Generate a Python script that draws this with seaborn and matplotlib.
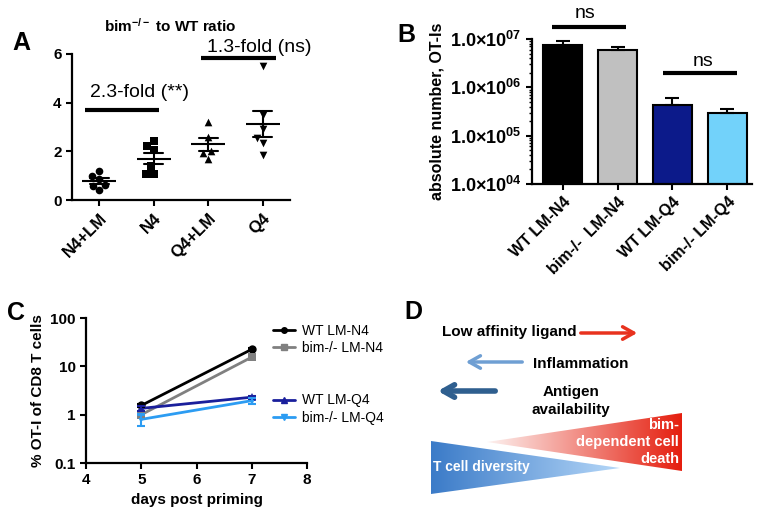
import matplotlib
matplotlib.use('Agg')
import matplotlib.pyplot as plt
import numpy as np
import pandas as pd
import seaborn as sns
from matplotlib import ticker
from matplotlib.lines import Line2D
from matplotlib.patches import Polygon
from matplotlib.colors import LinearSegmentedColormap

sns.set_style('ticks')
plt.rcParams['font.family'] = ['Liberation Sans', 'DejaVu Sans']
plt.rcParams['mathtext.fontset'] = 'custom'
plt.rcParams['mathtext.rm'] = 'Liberation Sans'
plt.rcParams['mathtext.bf'] = 'Liberation Sans:bold'
plt.rcParams['mathtext.default'] = 'bf'
plt.rcParams['text.color'] = 'black'
plt.rcParams['axes.labelcolor'] = 'black'
plt.rcParams['axes.linewidth'] = 1.6
plt.rcParams['axes.edgecolor'] = 'black'
plt.rcParams['xtick.major.width'] = 1.5
plt.rcParams['ytick.major.width'] = 1.5
plt.rcParams['xtick.major.size'] = 4
plt.rcParams['ytick.major.size'] = 4
plt.rcParams['ytick.minor.size'] = 2
plt.rcParams['ytick.minor.width'] = 1.0
plt.rcParams['xtick.color'] = 'black'
plt.rcParams['ytick.color'] = 'black'

# panel A: bim-/- to WT ratio
a_groups = ['N4+LM', 'N4', 'Q4+LM', 'Q4']
a_n4lm = [1.2, 0.98, 0.85, 0.62, 0.58, 0.4]
a_n4 = [2.41, 2.21, 2.07, 1.38, 1.08, 1.08]
a_q4lm = [3.19, 2.6, 2.03, 1.92, 1.68]
a_q4 = [5.5, 3.5, 2.9, 2.55, 2.35, 1.85]
a_markers = ['o', 's', '^', 'v']

# panel B: absolute number of OT-Is
b_groups = ['WT LM-N4', 'bim-/-  LM-N4', 'WT LM-Q4', 'bim-/- LM-Q4']
b_means = [7.6e6, 6.0e6, 4.4e5, 3.0e5]
b_sem = [1.35e6, 0.95e6, 1.6e5, 0.5e5]
b_colors = ['#000000', '#c0c0c0', '#0c1a8a', '#72d2fa']

# panel C: % OT-I of CD8 T cells
c_days = [5, 7]
c_groups = ['WT LM-N4', 'bim-/- LM-N4', 'WT LM-Q4', 'bim-/- LM-Q4']
c_wt_n4 = [1.55, 22.5]
c_bim_n4 = [1.0, 15.5]
c_wt_q4 = [1.35, 2.3]
c_bim_q4 = [0.8, 1.95]
c_wt_n4_sem = [0.12, 1.0]
c_bim_n4_sem = [0.1, 1.0]
c_wt_q4_sem = [0.15, 0.15]
c_bim_q4_sem = [0.23, 0.3]
c_colors = ['#000000', '#808080', '#1a1f9c', '#2c9cf2']
c_markers = ['o', 's', '^', 'v']

fig = plt.figure(figsize=(7.62, 5.16), dpi=100)

# ---------------- A
a_vals = [a_n4lm, a_n4, a_q4lm, a_q4]
df_a = pd.DataFrame({'group': np.repeat(a_groups, [len(v) for v in a_vals]),
                     'ratio': np.concatenate(a_vals)})
ax_a = fig.add_axes([0.0945, 0.6124, 0.286, 0.283])
for g, m in zip(a_groups, a_markers):
    sns.swarmplot(data=df_a[df_a.group == g], x='group', y='ratio', order=a_groups,
                  marker=m, color='black', size=5.5, ax=ax_a)
sns.pointplot(data=df_a, x='group', y='ratio', order=a_groups, errorbar='se',
              capsize=0.35, color='black', marker='_', markersize=24,
              markeredgewidth=1.5, linestyle='none', err_kws={'linewidth': 1.5}, ax=ax_a)
ax_a.set_xlim(-0.5, 3.5)
ax_a.set_ylim(0, 6)
ax_a.set_yticks([0, 2, 4, 6])
ax_a.set_xlabel('')
ax_a.set_ylabel('')
ax_a.set_title('bim$^{-/-}$ to WT ratio', fontsize=11, fontweight='bold', pad=16, x=0.45)
plt.setp(ax_a.get_yticklabels(), fontsize=11, fontweight='bold')
plt.setp(ax_a.get_xticklabels(), fontsize=12, fontweight='bold', rotation=45,
         ha='right', rotation_mode='anchor')
ax_a.plot([-0.26, 1.1], [3.71, 3.71], color='black', lw=3, solid_capstyle='butt')
ax_a.text(-0.17, 4.4, '2.3-fold (**)', fontsize=14, va='center')
ax_a.plot([1.87, 3.25], [5.84, 5.84], color='black', lw=3, solid_capstyle='butt', clip_on=False)
ax_a.text(1.98, 6.25, '1.3-fold (ns)', fontsize=14, va='center', clip_on=False)
sns.despine(ax=ax_a)

# ---------------- B
ax_b = fig.add_axes([0.698, 0.6434, 0.289, 0.281])
sns.barplot(x=b_groups, y=b_means, hue=b_groups, palette=b_colors, saturation=1,
            edgecolor='black', linewidth=1.5, width=0.7, legend=False, ax=ax_b)
ax_b.set_yscale('log')
ax_b.errorbar(range(len(b_groups)), b_means, yerr=[np.zeros(len(b_sem)), b_sem], fmt='none',
              ecolor='black', elinewidth=1.5, capsize=5, capthick=1.5, zorder=1)
ax_b.set_ylim(1e4, 1e7)
ax_b.set_xlim(-0.56, 3.45)
ax_b.yaxis.set_major_locator(ticker.LogLocator(base=10, numticks=10))
ax_b.yaxis.set_minor_locator(ticker.LogLocator(base=10, subs=np.arange(2, 10), numticks=20))
ax_b.yaxis.set_minor_formatter(ticker.NullFormatter())
ax_b.yaxis.set_major_formatter(ticker.FuncFormatter(
    lambda v, p: '1.0×10$^{%02d}$' % round(np.log10(v))))
ax_b.tick_params(axis='y', which='minor', length=2.5, width=1)
plt.setp(ax_b.get_yticklabels(), fontsize=13, fontweight='bold')
plt.setp(ax_b.get_xticklabels(), fontsize=11.5, fontweight='bold', rotation=45,
         ha='right', rotation_mode='anchor')
ax_b.set_ylabel('absolute number, OT-Is', fontsize=11.5, fontweight='bold', labelpad=4)
ax_b.plot([-0.2, 1.15], [1.77e7, 1.77e7], color='black', lw=3, solid_capstyle='butt', clip_on=False)
ax_b.text(0.4, 3.4e7, 'ns', fontsize=14, ha='center', va='center')
ax_b.plot([1.82, 3.18], [1.96e6, 1.96e6], color='black', lw=3, solid_capstyle='butt')
ax_b.text(2.55, 3.5e6, 'ns', fontsize=14, ha='center', va='center')
sns.despine(ax=ax_b)

# ---------------- C
c_means = [c_wt_n4, c_bim_n4, c_wt_q4, c_bim_q4]
c_sems = [c_wt_n4_sem, c_bim_n4_sem, c_wt_q4_sem, c_bim_q4_sem]
df_c = pd.DataFrame({'day': c_days * len(c_groups),
                     'pct': np.concatenate(c_means),
                     'group': np.repeat(c_groups, len(c_days))})
ax_c = fig.add_axes([0.1129, 0.1027, 0.29, 0.281])
sns.lineplot(data=df_c, x='day', y='pct', hue='group', style='group',
             palette=dict(zip(c_groups, c_colors)), markers=dict(zip(c_groups, c_markers)),
             dashes=False, markersize=6, markeredgewidth=0, linewidth=2, legend=False, ax=ax_c)
for mean, sem, col in zip(c_means, c_sems, c_colors):
    ax_c.errorbar(c_days, mean, yerr=sem, fmt='none', ecolor=col, elinewidth=1.5,
                  capsize=3, capthick=1.5)
ax_c.set_yscale('log')
ax_c.set_ylim(0.1, 100)
ax_c.set_xlim(4, 8)
ax_c.set_xticks([4, 5, 6, 7, 8])
ax_c.set_yticks([0.1, 1, 10, 100])
ax_c.yaxis.set_major_formatter(ticker.FuncFormatter(lambda v, p: '%g' % v))
ax_c.yaxis.set_minor_locator(ticker.NullLocator())
plt.setp(ax_c.get_yticklabels(), fontsize=11, fontweight='bold')
plt.setp(ax_c.get_xticklabels(), fontsize=11, fontweight='bold')
ax_c.set_xlabel('days post priming', fontsize=11, fontweight='bold')
ax_c.set_ylabel('% OT-I of CD8 T cells', fontsize=11, fontweight='bold')
handles = []
for g, col, m in zip(c_groups, c_colors, c_markers):
    handles.append(Line2D([], [], color=col, marker=m, lw=2, ms=4, label=g))
blank = Line2D([], [], color='none', label=' ')
handles = handles[:2] + [blank, blank] + handles[2:]
ax_c.legend(handles=handles, loc='upper left', bbox_to_anchor=(0.82, 1.0), frameon=False,
            fontsize=10, handlelength=1.6, handletextpad=0.5, labelspacing=0.25,
            borderaxespad=0)
sns.despine(ax=ax_c)

# ---------------- D (schematic, pixel coordinates)
ax_d = fig.add_axes([0, 0, 1, 1], zorder=-1)
ax_d.axis('off')


def gradient_triangle(verts, c0, c1):
    cm = LinearSegmentedColormap.from_list('g', [c0, c1])
    xs = [v[0] for v in verts]
    ys = [v[1] for v in verts]
    im = ax_d.imshow(np.linspace(0, 1, 256)[None, :], cmap=cm, aspect='auto',
                     extent=(min(xs), max(xs), max(ys), min(ys)), zorder=1)
    poly = Polygon(verts, closed=True, facecolor='none', edgecolor='none')
    ax_d.add_patch(poly)
    im.set_clip_path(poly)


gradient_triangle([(487, 442), (682, 413), (682, 471)], '#fdf2f0', '#e51e0e')
gradient_triangle([(431, 441), (431, 494), (620, 468)], '#3b7bc8', '#b5d7f8')
ax_d.set_xlim(0, 762)
ax_d.set_ylim(516, 0)

ax_d.annotate('', xy=(640, 333), xytext=(578, 333),
              arrowprops=dict(arrowstyle='->,head_length=0.8,head_width=0.45', color='#e8321e', lw=2.5))
ax_d.annotate('', xy=(463, 362), xytext=(525, 362),
              arrowprops=dict(arrowstyle='->,head_length=0.8,head_width=0.45', color='#6f9fd3', lw=2.5))
ax_d.annotate('', xy=(435, 391), xytext=(498, 391),
              arrowprops=dict(arrowstyle='->,head_length=0.8,head_width=0.45', color='#2f5f8f', lw=4))
ax_d.text(577, 332, 'Low affinity ligand', fontsize=11, fontweight='bold', ha='right', va='center')
ax_d.text(533, 364, 'Inflammation', fontsize=11, fontweight='bold', ha='left', va='center')
ax_d.text(571, 401, 'Antigen\navailability', fontsize=11, fontweight='bold', ha='center',
          va='center', linespacing=1.3)
ax_d.text(433, 467, 'T cell diversity', fontsize=10, fontweight='bold', color='white',
          ha='left', va='center', zorder=3)
ax_d.text(679, 442, 'bim-\ndependent cell\ndeath', fontsize=10.5, fontweight='bold',
          color='white', ha='right', va='center', linespacing=1.25, zorder=3)

# panel letters
for letter, px, py in [('A', 12, 43), ('B', 397, 35), ('C', 7, 313), ('D', 404, 312)]:
    fig.text(px / 762, 1 - py / 516, letter, fontsize=18, fontweight='bold', va='center')

fig.savefig('out.png', dpi=100)
